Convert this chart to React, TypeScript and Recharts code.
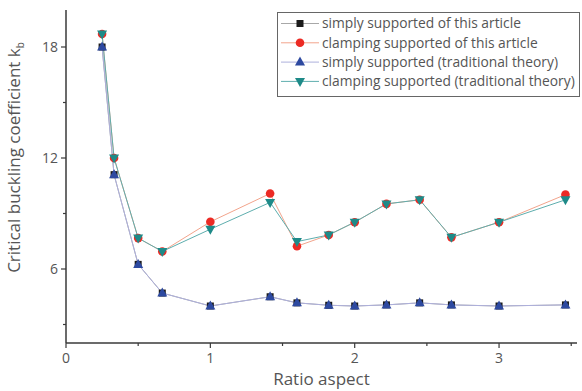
import { LineChart, Line, XAxis, YAxis } from 'recharts'

const ratios = [0.25, 0.333, 0.5, 0.667, 1, 1.414, 1.6, 1.82, 2, 2.22, 2.45, 2.67, 3, 3.46]
const simplyArticle = [18.0, 11.1, 6.25, 4.7, 4.0, 4.5, 4.17, 4.04, 4.0, 4.06, 4.17, 4.06, 4.0, 4.06]
const clampArticle = [18.7, 12.0, 7.67, 6.95, 8.55, 10.08, 7.23, 7.84, 8.53, 9.52, 9.74, 7.71, 8.53, 10.02]
const simplyTraditional = [18.0, 11.1, 6.25, 4.7, 4.0, 4.5, 4.17, 4.04, 4.0, 4.06, 4.17, 4.06, 4.0, 4.06]
const clampTraditional = [18.7, 12.0, 7.67, 6.95, 8.15, 9.6, 7.48, 7.84, 8.53, 9.52, 9.74, 7.71, 8.53, 9.74]

const xTicks = [0, 0.5, 1, 1.5, 2, 2.5, 3, 3.5]
const yTicks = [3, 6, 9, 12, 15, 18]

const series = [
  { key: 'simplyArticle', name: 'simply supported of this article', shape: 'square', line: '#a8a8a8', fill: '#1c1c1c' },
  { key: 'clampArticle', name: 'clamping supported of this article', shape: 'circle', line: '#f2a48c', fill: '#ec2a24' },
  { key: 'simplyTraditional', name: 'simply supported (traditional theory)', shape: 'up', line: '#aeb0dc', fill: '#2d49a0' },
  { key: 'clampTraditional', name: 'clamping supported (traditional theory)', shape: 'down', line: '#5eaeae', fill: '#1e8a88' },
]

const data = ratios.map((r, i) => ({
  ratio: r,
  simplyArticle: simplyArticle[i],
  clampArticle: clampArticle[i],
  simplyTraditional: simplyTraditional[i],
  clampTraditional: clampTraditional[i],
}))

const FONT = '"Open Sans", sans-serif'
const AXIS = '#3a3a3a'
const TEXT = '#555'

function Marker({ shape, cx, cy, color }: { shape: string; cx: number; cy: number; color: string }) {
  if (shape === 'square') return <rect x={cx - 3.5} y={cy - 3.5} width={7} height={7} fill={color} />
  if (shape === 'circle') return <circle cx={cx} cy={cy} r={4.3} fill={color} />
  if (shape === 'up') return <path d={`M${cx},${cy - 5.5}L${cx + 5},${cy + 3.5}L${cx - 5},${cy + 3.5}Z`} fill={color} />
  return <path d={`M${cx},${cy + 5.5}L${cx + 5},${cy - 3.5}L${cx - 5},${cy - 3.5}Z`} fill={color} />
}

function XTick({ x, y, payload }: any) {
  const major = Number.isInteger(payload.value)
  return (
    <g>
      <line x1={x} y1={y} x2={x} y2={y + (major ? 5 : 3)} stroke={AXIS} strokeWidth={1.2} />
      {major && (
        <text x={x} y={y + 20} textAnchor="middle" fontSize={14} fill={TEXT} fontFamily={FONT}>
          {payload.value}
        </text>
      )}
    </g>
  )
}

function YTick({ x, y, payload }: any) {
  const major = payload.value % 6 === 0
  return (
    <g>
      <line x1={x} y1={y} x2={x - (major ? 5 : 3)} y2={y} stroke={AXIS} strokeWidth={1.2} />
      {major && (
        <text x={x - 8} y={y + 5} textAnchor="end" fontSize={14} fill={TEXT} fontFamily={FONT}>
          {payload.value}
        </text>
      )}
    </g>
  )
}

function YTitle({ viewBox }: any) {
  const cy = viewBox.y + viewBox.height / 2 - 19
  return (
    <text transform={`translate(20, ${cy}) rotate(-90)`} textAnchor="middle" fontSize={17} fill={TEXT} fontFamily={FONT}>
      Critical buckling coefficient k
      <tspan fontSize={10} dy={4}>b</tspan>
    </text>
  )
}

function XTitle({ viewBox }: any) {
  return (
    <text x={viewBox.x + viewBox.width / 2} y={385} textAnchor="middle" fontSize={17} fill={TEXT} fontFamily={FONT}>
      Ratio aspect
    </text>
  )
}

function LegendBox() {
  return (
    <div
      style={{
        position: 'absolute',
        left: 277,
        top: 12,
        width: 303,
        height: 85,
        border: '1px solid #666',
        background: '#fff',
        boxSizing: 'border-box',
      }}
    >
      <svg width={301} height={83}>
        {series.map((s, i) => {
          const y = 10.5 + i * 19.3
          return (
            <g key={s.key}>
              <line x1={3} x2={41} y1={y} y2={y} stroke={s.line} strokeWidth={1} />
              <Marker shape={s.shape} cx={22} cy={y} color={s.fill} />
              <text x={44} y={y + 4.8} fontSize={13.8} fill={TEXT} fontFamily={FONT}>
                {s.name}
              </text>
            </g>
          )
        })}
      </svg>
    </div>
  )
}

export default function App() {
  return (
    <div style={{ position: 'absolute', left: 0, top: 0, width: 582, height: 391, background: '#fff' }}>
      <LineChart width={582} height={391} data={data} margin={{ top: 10, right: 5, bottom: 0, left: 0 }}>
        <XAxis
          dataKey="ratio"
          type="number"
          domain={[0, 3.54]}
          ticks={xTicks}
          tick={<XTick />}
          tickLine={false}
          tickSize={0}
          tickMargin={0}
          height={48}
          axisLine={{ stroke: AXIS, strokeWidth: 1.5 }}
          interval={0}
          allowDataOverflow
          label={<XTitle />}
        />
        <YAxis
          type="number"
          domain={[2, 20]}
          ticks={yTicks}
          tick={<YTick />}
          tickLine={false}
          tickSize={0}
          tickMargin={0}
          width={66}
          axisLine={{ stroke: AXIS, strokeWidth: 1.5 }}
          interval={0}
          allowDataOverflow
          label={<YTitle />}
        />
        {series.map((s) => (
          <Line
            key={s.key}
            dataKey={s.key}
            name={s.name}
            type="linear"
            stroke={s.line}
            strokeWidth={1}
            isAnimationActive={false}
            dot={(p: any) => <Marker key={`${s.key}-${p.index}`} shape={s.shape} cx={p.cx} cy={p.cy} color={s.fill} />}
            activeDot={false}
          />
        ))}
      </LineChart>
      <LegendBox />
    </div>
  )
}
